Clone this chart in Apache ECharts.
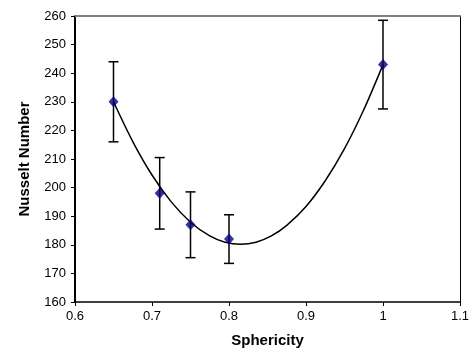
<!DOCTYPE html>
<html>
<head>
<meta charset="utf-8">
<script src="https://cdn.jsdelivr.net/npm/echarts@6/dist/echarts.min.js"></script>
<style>html,body{margin:0;padding:0;background:#fff}#c{width:476px;height:357px}</style>
</head>
<body>
<div id="c"></div>
<script>
// Measured points
var sphericity = [0.65, 0.71, 0.75, 0.80, 1.00];
var nusselt = [230, 198, 187, 182, 243];
var errLow = [216, 185.5, 175.5, 173.5, 227.5];
var errHigh = [244, 210.5, 198.5, 190.5, 258.5];
// Trend curve
var curveX = [0.65, 0.675, 0.70, 0.725, 0.75, 0.775, 0.795, 0.815, 0.835, 0.855, 0.875, 0.90, 0.925, 0.95, 0.975, 1.00];
var curveY = [230, 216.1, 204.4, 195.0, 187.9, 183.1, 180.9, 180.2, 180.9, 183.1, 186.8, 193.4, 202.4, 213.6, 227.2, 243];
var xTicks = [0.6, 0.7, 0.8, 0.9, 1.0, 1.1];
var yTicks = [160, 170, 180, 190, 200, 210, 220, 230, 240, 250, 260];

var FONT = '"Liberation Sans", Arial, sans-serif';
var chart = echarts.init(document.getElementById('c'));
chart.setOption({
  animation: false,
  backgroundColor: '#fff',
  grid: {left: 75, right: 16, top: 16, bottom: 55, containLabel: false},
  xAxis: [{
    type: 'value', min: xTicks[0], max: xTicks[xTicks.length - 1], interval: 0.1,
    name: 'Sphericity', nameLocation: 'middle', nameGap: 31,
    nameTextStyle: {fontFamily: FONT, fontSize: 15, fontWeight: 'bold', color: '#000'},
    axisLine: {show: true, onZero: false, lineStyle: {color: '#000', width: 1.5}},
    axisTick: {show: true, length: 4, lineStyle: {color: '#000'}},
    axisLabel: {fontFamily: FONT, fontSize: 13, color: '#000', margin: 8,
      formatter: function (v) { return String(Math.round(v * 10) / 10); }},
    splitLine: {show: false}
  }, {
    type: 'value', position: 'top', min: 0.6, max: 1.1,
    axisLine: {show: true, lineStyle: {color: '#808080', width: 2}},
    axisTick: {show: false}, axisLabel: {show: false}, splitLine: {show: false}
  }],
  yAxis: [{
    type: 'value', min: yTicks[0], max: yTicks[yTicks.length - 1], interval: 10,
    name: 'Nusselt Number', nameLocation: 'middle', nameGap: 43, nameRotate: 90,
    nameTextStyle: {fontFamily: FONT, fontSize: 15, fontWeight: 'bold', color: '#000'},
    axisLine: {show: true, onZero: false, lineStyle: {color: '#000', width: 2}},
    axisTick: {show: true, length: 4, lineStyle: {color: '#000'}},
    axisLabel: {fontFamily: FONT, fontSize: 13, color: '#000', margin: 9},
    splitLine: {show: false}
  }, {
    type: 'value', position: 'right', min: 160, max: 260,
    axisLine: {show: true, lineStyle: {color: '#000', width: 1}},
    axisTick: {show: false}, axisLabel: {show: false}, splitLine: {show: false}
  }],
  series: [{
    type: 'line', data: curveX.map(function (x, i) { return [x, curveY[i]]; }),
    smooth: 0.3, showSymbol: false, symbol: 'none',
    lineStyle: {color: '#000', width: 1.5}, z: 2
  }, {
    type: 'custom', z: 3,
    data: sphericity.map(function (x, i) { return [x, errLow[i], errHigh[i]]; }),
    renderItem: function (params, api) {
      var lo = api.coord([api.value(0), api.value(1)]);
      var hi = api.coord([api.value(0), api.value(2)]);
      var w = 5;
      var st = {stroke: '#000', lineWidth: 1.5};
      return {type: 'group', children: [
        {type: 'line', shape: {x1: lo[0], y1: lo[1], x2: hi[0], y2: hi[1]}, style: st},
        {type: 'line', shape: {x1: lo[0] - w, y1: lo[1], x2: lo[0] + w, y2: lo[1]}, style: st},
        {type: 'line', shape: {x1: hi[0] - w, y1: hi[1], x2: hi[0] + w, y2: hi[1]}, style: st}
      ]};
    }
  }, {
    type: 'scatter', z: 4,
    data: sphericity.map(function (x, i) { return [x, nusselt[i]]; }),
    symbol: 'diamond', symbolSize: [10, 11],
    itemStyle: {color: '#000080'}
  }]
});
</script>
</body>
</html>
